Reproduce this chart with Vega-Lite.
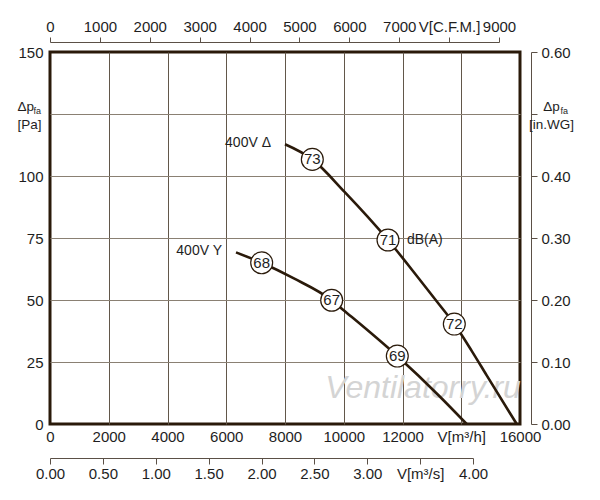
{
  "$schema": "https://vega.github.io/schema/vega-lite/v6.json",
  "width": 470,
  "height": 372,
  "autosize": {"type": "none"},
  "padding": {"left": 50, "top": 52, "right": 80, "bottom": 76},
  "background": "white",
  "config": {
    "view": {"stroke": "#2a1a0a", "strokeWidth": 3},
    "font": "Liberation Sans",
    "axis": {
      "labelFont": "Liberation Sans",
      "labelFontSize": 15,
      "labelColor": "#1e1e1e",
      "titleFont": "Liberation Sans",
      "titleFontWeight": "normal",
      "titleColor": "#1e1e1e",
      "domainColor": "#5b5046",
      "tickColor": "#5b5046",
      "grid": false
    }
  },
  "datasets": {
    "delta": [
      {"flow": 8000, "dp": 112.8},
      {"flow": 8930, "dp": 106.7},
      {"flow": 10019, "dp": 93.7},
      {"flow": 11506, "dp": 74.2},
      {"flow": 12482, "dp": 59.8},
      {"flow": 13163, "dp": 49.5},
      {"flow": 13764, "dp": 40.3},
      {"flow": 14355, "dp": 29.5},
      {"flow": 14866, "dp": 19.6},
      {"flow": 15887, "dp": 0}
    ],
    "star": [
      {"flow": 6332, "dp": 69.2},
      {"flow": 7206, "dp": 65.0},
      {"flow": 8285, "dp": 58.8},
      {"flow": 9589, "dp": 49.9},
      {"flow": 9985, "dp": 46.0},
      {"flow": 11823, "dp": 27.4},
      {"flow": 13277, "dp": 11.0},
      {"flow": 14184, "dp": 0}
    ],
    "circles": [
      {"flow": 8930, "dp": 106.7, "db": "73"},
      {"flow": 11506, "dp": 74.2, "db": "71"},
      {"flow": 13764, "dp": 40.3, "db": "72"},
      {"flow": 7206, "dp": 65.0, "db": "68"},
      {"flow": 9589, "dp": 49.9, "db": "67"},
      {"flow": 11823, "dp": 27.4, "db": "69"}
    ],
    "curveNames": [
      {"flow": 8000, "dp": 112.8, "text": "400V Δ"},
      {"flow": 6332, "dp": 69.2, "text": "400V Y"}
    ],
    "unit": [{"flow": 11506, "dp": 74.2, "text": "dB(A)"}],
    "watermark": [{"flow": 12700, "dp": 14.5, "text": "Ventilatorry.ru"}],
    "cfm": [{"cfm": 0}, {"cfm": 9000}],
    "m3s": [{"q": 0}, {"q": 4}],
    "inwg": [{"p": 0}, {"p": 0.6}]
  },
  "resolve": {"scale": {"x": "independent", "y": "independent"}},
  "layer": [
    {
      "data": {"name": "delta"},
      "mark": {"type": "point", "opacity": 0},
      "encoding": {
        "x": {"field": "flow", "type": "quantitative",
          "scale": {"domain": [0, 16000], "nice": false},
          "axis": {"values": [2000, 4000, 6000, 8000, 10000, 12000, 14000], "grid": true,
            "gridColor": "#62574a", "gridWidth": 1, "labels": false, "ticks": false,
            "domain": false, "title": null}},
        "y": {"field": "dp", "type": "quantitative",
          "scale": {"domain": [0, 150], "nice": false},
          "axis": {"values": [25, 50, 75, 100, 125], "grid": true,
            "gridColor": "#8a8073", "gridWidth": 1.2, "labels": false, "ticks": false,
            "domain": false, "title": null}}
      }
    },
    {
      "data": {"name": "watermark"},
      "mark": {"type": "text", "fontSize": 32, "fontStyle": "italic", "color": "#d4d4d4",
        "align": "center", "baseline": "middle"},
      "encoding": {
        "x": {"field": "flow", "type": "quantitative", "scale": {"domain": [0, 16000], "nice": false}, "axis": null},
        "y": {"field": "dp", "type": "quantitative", "scale": {"domain": [0, 150], "nice": false}, "axis": null},
        "text": {"field": "text"}
      }
    },
    {
      "data": {"name": "delta"},
      "mark": {"type": "line", "color": "#2a1a0a", "strokeWidth": 2.6, "interpolate": "monotone"},
      "encoding": {
        "x": {"field": "flow", "type": "quantitative",
          "scale": {"domain": [0, 16000], "nice": false},
          "axis": {"orient": "bottom", "values": [0, 2000, 4000, 6000, 8000, 10000, 12000, 14000, 16000],
            "format": "d", "labelExpr": "datum.value == 14000 ? 'V[m³/h]' : datum.label",
            "ticks": false, "domain": false, "labelPadding": 5, "labelFlush": false,
            "labelOverlap": false, "title": null}},
        "y": {"field": "dp", "type": "quantitative",
          "scale": {"domain": [0, 150], "nice": false},
          "axis": {"orient": "left", "values": [0, 25, 50, 75, 100, 150],
            "ticks": false, "domain": false, "labelPadding": 7, "labelFlush": false,
            "labelOverlap": false, "title": ["Δp", "[Pa]"], "titleAngle": 0,
            "titleX": -33, "titleY": 58, "titleAlign": "left", "titleBaseline": "alphabetic",
            "titleFontSize": 13.5, "titleLineHeight": 18}}
      }
    },
    {
      "data": {"name": "star"},
      "mark": {"type": "line", "color": "#2a1a0a", "strokeWidth": 2.6, "interpolate": "monotone"},
      "encoding": {
        "x": {"field": "flow", "type": "quantitative", "scale": {"domain": [0, 16000], "nice": false}, "axis": null},
        "y": {"field": "dp", "type": "quantitative",
          "scale": {"domain": [0, 150], "nice": false},
          "axis": {"orient": "left", "labels": false, "ticks": false, "domain": false,
            "title": "fa", "titleAngle": 0, "titleX": -17, "titleY": 61, "titleAlign": "left",
            "titleBaseline": "alphabetic", "titleFontSize": 9}}
      }
    },
    {
      "data": {"name": "circles"},
      "mark": {"type": "point", "filled": true, "fill": "white", "stroke": "#2a1a0a",
        "strokeWidth": 1.2, "size": 480, "opacity": 1},
      "encoding": {
        "x": {"field": "flow", "type": "quantitative", "scale": {"domain": [0, 16000], "nice": false}, "axis": null},
        "y": {"field": "dp", "type": "quantitative",
          "scale": {"domain": [0, 150], "nice": false},
          "axis": {"orient": "right", "offset": 11, "labels": false, "ticks": false, "domain": false,
            "title": "fa", "titleAngle": 0, "titleX": 29, "titleY": 61, "titleAlign": "left",
            "titleBaseline": "alphabetic", "titleFontSize": 9}}
      }
    },
    {
      "data": {"name": "circles"},
      "mark": {"type": "text", "fontSize": 15, "color": "#1e1e1e", "align": "center", "baseline": "middle"},
      "encoding": {
        "x": {"field": "flow", "type": "quantitative", "scale": {"domain": [0, 16000], "nice": false}, "axis": null},
        "y": {"field": "dp", "type": "quantitative", "scale": {"domain": [0, 150], "nice": false}, "axis": null},
        "text": {"field": "db"}
      }
    },
    {
      "data": {"name": "curveNames"},
      "mark": {"type": "text", "fontSize": 14, "color": "#1e1e1e", "align": "right", "baseline": "middle", "dx": -14, "dy": -1},
      "encoding": {
        "x": {"field": "flow", "type": "quantitative", "scale": {"domain": [0, 16000], "nice": false}, "axis": null},
        "y": {"field": "dp", "type": "quantitative", "scale": {"domain": [0, 150], "nice": false}, "axis": null},
        "text": {"field": "text"}
      }
    },
    {
      "data": {"name": "unit"},
      "mark": {"type": "text", "fontSize": 14, "color": "#1e1e1e", "align": "left", "baseline": "middle", "dx": 19},
      "encoding": {
        "x": {"field": "flow", "type": "quantitative", "scale": {"domain": [0, 16000], "nice": false}, "axis": null},
        "y": {"field": "dp", "type": "quantitative", "scale": {"domain": [0, 150], "nice": false}, "axis": null},
        "text": {"field": "text"}
      }
    },
    {
      "data": {"name": "cfm"},
      "mark": {"type": "point", "opacity": 0},
      "encoding": {
        "x": {"field": "cfm", "type": "quantitative",
          "scale": {"domain": [0, 9000], "range": [0, 449], "nice": false},
          "axis": {"orient": "top", "offset": 10, "values": [0, 1000, 2000, 3000, 4000, 5000, 6000, 7000, 8000, 9000],
            "format": "d", "labelExpr": "datum.value == 8000 ? 'V[C.F.M.]' : datum.label",
            "tickSize": 5, "labelPadding": 3, "labelFlush": false, "labelOverlap": false, "title": null}}
      }
    },
    {
      "data": {"name": "m3s"},
      "mark": {"type": "point", "opacity": 0},
      "encoding": {
        "x": {"field": "q", "type": "quantitative",
          "scale": {"domain": [0, 4], "range": [0, 423], "nice": false},
          "axis": {"orient": "bottom", "offset": 34, "values": [0, 0.5, 1, 1.5, 2, 2.5, 3, 3.5, 4],
            "format": ".2f", "labelExpr": "datum.value == 3.5 ? 'V[m³/s]' : datum.label",
            "tickSize": 6, "labelPadding": 2, "labelFlush": false, "labelOverlap": false, "title": null}}
      }
    },
    {
      "data": {"name": "inwg"},
      "mark": {"type": "point", "opacity": 0},
      "encoding": {
        "y": {"field": "p", "type": "quantitative",
          "scale": {"domain": [0, 0.6], "nice": false},
          "axis": {"orient": "right", "offset": 11, "values": [0, 0.1, 0.2, 0.3, 0.4, 0.5, 0.6],
            "format": ".2f", "labelExpr": "datum.value == 0.5 ? '' : datum.label",
            "tickSize": 6, "labelPadding": 4, "labelFlush": false, "labelOverlap": false,
            "title": ["Δp", "[in.WG]"], "titleAngle": 0, "titleX": 20, "titleY": 58,
            "titleAlign": "center", "titleBaseline": "alphabetic", "titleFontSize": 13.5, "titleLineHeight": 18}}
      }
    }
  ]
}
